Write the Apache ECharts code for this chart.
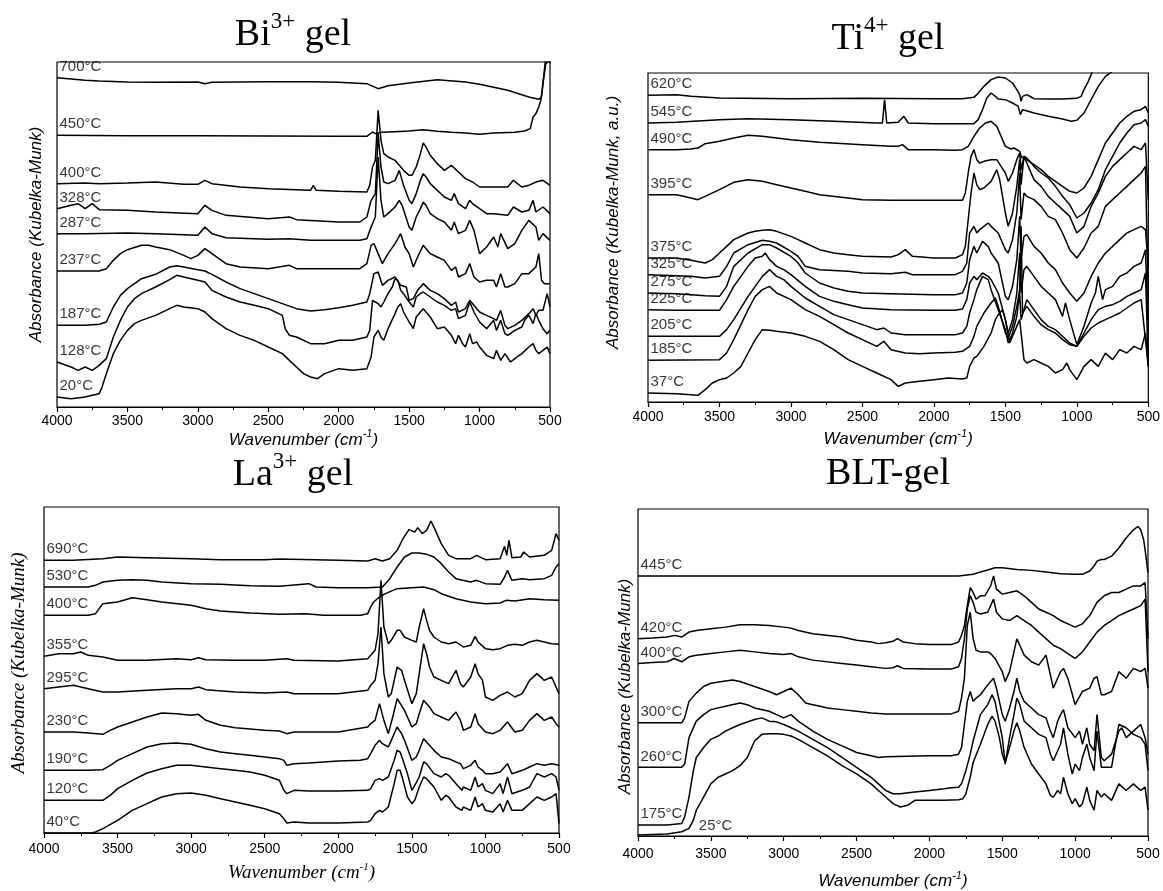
<!DOCTYPE html>
<html>
<head>
<meta charset="utf-8">
<script src="https://cdn.jsdelivr.net/npm/echarts@6/dist/echarts.min.js"></script>
<style>
  html, body { margin: 0; padding: 0; background: #fff; }
  #chart { width: 1163px; height: 891px; }
</style>
</head>
<body>
<div id="chart"></div>
<script>
// spectra: [wavenumber (cm-1), offset absorbance (a.u.)]

// ---- Bi3+ gel ----
const biLabels = ['700°C', '450°C', '400°C', '328°C', '287°C', '237°C', '187°C', '128°C', '20°C'];
const bi700 = [[4000,98.8],[3800,98],[3700,97.8],[3500,97.5],[3300,97.4],[3000,97.5],[2950,97],[2900,97.4],[2500,97.6],[2200,97.6],[2000,97.4],[1800,97],[1720,95.5],[1650,96.4],[1500,97.2],[1300,98.2],[1100,97.5],[1000,96.8],[800,95],[650,93],[580,92.3],[560,93],[545,99],[530,105],[515,107],[500,103]];
const bi450 = [[4000,81.5],[3500,81.4],[3000,81.4],[2500,81.3],[2000,81.2],[1800,81.2],[1760,82.5],[1740,82],[1700,82.4],[1600,82.6],[1500,82.8],[1400,83.2],[1300,82.7],[1200,82.4],[1100,82.2],[1000,81.8],[900,82.2],[750,82.4],[680,82.8],[640,83.5],[620,87],[600,88],[580,90],[565,92],[550,97],[530,103],[500,104]];
const bi400 = [[4000,67],[3800,67.2],[3700,67],[3500,67.2],[3300,67.5],[3100,66.8],[3000,66.8],[2950,68],[2900,67],[2700,66],[2500,65.5],[2300,65.2],[2200,65],[2180,66.5],[2160,65],[2000,64.7],[1800,64.5],[1780,66.5],[1760,72],[1740,74],[1720,89],[1700,80],[1680,76],[1650,75],[1600,74],[1570,72.5],[1540,71],[1500,69.5],[1480,69.5],[1450,72],[1420,76],[1400,79.2],[1380,78],[1350,75.5],[1300,73],[1250,71],[1200,72.5],[1190,73],[1150,70.5],[1100,68.5],[1050,67.5],[1000,66],[900,66],[800,66],[760,68],[700,66],[650,66.5],[600,67.5],[550,68],[500,66.5]];
const bi328 = [[4000,59.5],[3900,60.5],[3850,61],[3800,59.5],[3750,61],[3700,59.2],[3500,59],[3300,58.5],[3000,58],[2950,60.5],[2900,59],[2800,57.5],[2500,56.5],[2350,57],[2300,56.2],[2000,55.5],[1850,55.5],[1800,57],[1770,62],[1740,64],[1720,82],[1700,72],[1680,67.5],[1650,67],[1600,68],[1570,71],[1540,66.5],[1500,62],[1480,61],[1450,64],[1420,68],[1400,70],[1380,69],[1350,67],[1300,65],[1250,63],[1200,62],[1180,64],[1150,61],[1100,59.5],[1070,62],[1050,61],[1000,59.5],[950,58],[900,58],[800,57.5],[760,60],[700,58.5],[650,59],[620,62],[600,58.5],[550,60],[500,58]];
const bi287 = [[4000,52],[3800,52],[3500,52.2],[3300,52],[3000,51.5],[2950,54],[2900,52],[2800,50.8],[2500,50.3],[2350,50.5],[2200,50],[2000,50],[1850,50],[1800,50.5],[1770,54],[1740,57],[1720,75],[1700,62],[1680,57],[1650,58],[1600,60],[1570,62],[1550,60.5],[1500,54],[1480,53],[1450,57],[1420,59.5],[1400,61.5],[1380,60.5],[1350,58],[1300,56.5],[1250,55.5],[1200,53],[1180,55.5],[1150,52],[1100,53],[1070,56],[1040,53],[1000,46],[950,48],[900,51],[870,48],[850,52],[800,47.5],[750,49],[700,53],[650,56],[600,54],[580,50],[550,52],[500,50]];
const bi237 = [[4000,40.8],[3800,40.8],[3700,40.8],[3650,41.5],[3600,44],[3550,46],[3500,47.2],[3400,48.5],[3350,48.5],[3300,48],[3200,47.2],[3100,45.5],[3050,44.5],[3000,45.5],[2950,47.5],[2900,46],[2800,43],[2700,42],[2500,41.5],[2350,42.5],[2300,41.5],[2000,41.5],[1850,41.5],[1800,43],[1770,48.5],[1750,49],[1720,46],[1690,43],[1650,46],[1600,49],[1560,52],[1530,48],[1500,46],[1470,42],[1440,45],[1400,48.5],[1350,46],[1300,45],[1250,44],[1200,41],[1170,42],[1150,39],[1100,40],[1070,43],[1040,39],[1000,37.5],[950,38],[900,38],[880,36],[850,40],[820,36],[800,36],[750,37],[700,40],[650,40],[600,42],[580,46],[560,38],[540,37],[500,37]];
const bi187 = [[4000,24.5],[3800,24.5],[3700,24.8],[3650,25.5],[3600,30],[3550,33.5],[3500,35.5],[3400,38.5],[3300,39.8],[3200,42],[3150,42.4],[3100,42],[3000,41.2],[2950,40.8],[2900,39.8],[2800,37.5],[2700,35.5],[2600,34],[2500,32.5],[2400,31],[2300,29.5],[2200,28.8],[2100,29.2],[2000,29.8],[1900,30.5],[1800,31.5],[1780,34],[1750,40],[1720,40.5],[1690,36.5],[1650,38],[1600,39],[1560,36.5],[1520,36],[1500,32],[1470,32.5],[1440,35],[1400,37],[1350,35],[1300,34],[1250,32.5],[1200,30.5],[1170,31.5],[1150,28.5],[1100,29.5],[1070,32],[1040,30.5],[1000,28.5],[950,27.5],[900,26.5],[880,26],[850,29],[820,24.5],[800,23.5],[750,24.5],[700,26],[650,28],[620,29.5],[600,27.5],[580,29],[550,29],[520,34],[500,30]];
const bi128 = [[4000,13.5],[3900,12],[3850,11],[3800,12],[3750,11],[3700,12.5],[3650,14.5],[3600,21],[3550,26],[3500,30],[3450,32.5],[3400,34],[3300,36],[3200,38.2],[3150,39.5],[3100,39],[3000,38],[2950,37.5],[2900,35],[2800,33],[2700,31.5],[2600,30.5],[2500,29.5],[2400,27.5],[2380,23.5],[2350,21.5],[2300,21],[2200,19],[2100,19],[2000,20],[1900,20],[1800,21],[1780,23],[1760,32],[1740,31.5],[1720,31],[1700,30],[1680,31.5],[1650,34],[1620,36],[1600,38.5],[1580,38],[1560,35],[1540,34],[1500,31.5],[1470,30],[1450,33],[1420,34],[1400,34.5],[1350,33],[1300,31.5],[1250,30.5],[1200,29],[1170,29.5],[1150,26.5],[1100,27.5],[1070,31.5],[1040,28.5],[1000,25.5],[950,23.5],[900,26],[880,23],[850,26],[820,22],[800,21.5],[750,23],[700,24],[680,26],[650,27.5],[620,25],[600,28],[580,26],[550,23.5],[520,22],[500,23]];
const bi20 = [[4000,3],[3900,2.5],[3800,3],[3750,3.5],[3700,4],[3680,6],[3650,10],[3600,16],[3550,20],[3500,23],[3450,25],[3400,26],[3300,27.5],[3200,29.5],[3150,30.5],[3100,30],[3000,29.5],[2950,28.5],[2900,26.5],[2800,23.5],[2700,21.5],[2600,20],[2500,18],[2400,16],[2350,14],[2300,12],[2250,10],[2200,9],[2150,8.5],[2100,10],[2000,11.5],[1900,11],[1800,11.5],[1770,15],[1750,21],[1720,23],[1700,21],[1680,20],[1650,23.5],[1600,28],[1580,30],[1560,31],[1540,28.5],[1500,25.5],[1470,23.5],[1450,27],[1420,28.5],[1400,29.5],[1350,27],[1300,23.5],[1250,24],[1200,21.5],[1170,19],[1150,21.5],[1120,19],[1100,18],[1070,22],[1050,19],[1020,19.5],[1000,18],[950,15.5],[900,14.5],[880,17],[850,14],[820,16],[780,13.5],[750,14.5],[700,16],[650,18],[620,19],[600,17],[580,16],[550,17],[520,18],[500,16]];

// ---- Ti4+ gel ----
const tiLabels = ['620°C', '545°C', '490°C', '395°C', '375°C', '325°C', '275°C', '225°C', '205°C', '185°C', '37°C'];
const ti620 = [[4000,92.3],[3800,92.5],[3700,92],[3500,91.5],[3000,91.3],[2500,91.4],[2000,91.3],[1800,91.3],[1720,91.7],[1700,92.5],[1650,95],[1600,97],[1550,97.8],[1500,97.5],[1450,96],[1420,94],[1400,92.5],[1390,90.5],[1380,92],[1350,92.5],[1320,91.8],[1300,91.3],[1200,91.2],[1100,91.2],[1000,91.4],[970,92],[950,94],[920,96.5],[900,98.5],[880,101],[850,103],[500,103]];
const ti545 = [[4000,84],[3800,84.2],[3500,85],[3300,85.3],[3000,85],[2700,84.5],[2400,84],[2360,84],[2345,91],[2330,84],[2250,84.2],[2210,86],[2180,84],[2000,83.8],[1800,83.8],[1720,83.8],[1690,85],[1660,88],[1630,91.5],[1600,93],[1570,92],[1550,91.2],[1500,91],[1450,90],[1410,89],[1395,86.5],[1380,88],[1340,87.5],[1300,87],[1200,86],[1100,85.2],[1040,84.5],[1000,84.8],[950,87],[900,91],[850,95],[800,98],[750,99.5],[700,101],[500,101]];
const ti490 = [[4000,76],[3800,76],[3700,76.2],[3650,76.5],[3600,77.8],[3500,78.5],[3400,79.5],[3300,80.3],[3200,80],[3000,79],[2800,78.2],[2500,77.5],[2300,77],[2250,77],[2220,77.5],[2180,76],[2000,76],[1850,75.8],[1800,76],[1760,77],[1720,80],[1680,82.5],[1640,84],[1600,84.5],[1560,83],[1520,79],[1500,77],[1460,76.2],[1440,76.5],[1400,75.5],[1385,73.5],[1370,74],[1350,73],[1300,71.5],[1250,70],[1200,68],[1150,66.5],[1100,65],[1050,63.5],[1000,63],[950,64.5],[900,68],[850,73],[800,78],[750,81],[700,84],[650,86],[600,87.5],[550,88],[520,89],[500,87]];
const ti395 = [[4000,62.5],[3800,62.5],[3700,61.5],[3650,61],[3600,62],[3500,64],[3400,66.2],[3300,67],[3200,66.5],[3100,65.5],[3000,64.5],[2900,63.5],[2800,62.5],[2600,61.5],[2500,61],[2300,60.8],[2000,60.8],[1800,60.8],[1780,63],[1760,69],[1740,74],[1720,76],[1700,73],[1680,72],[1650,72.5],[1600,73],[1560,73],[1530,71],[1500,69],[1480,66.5],[1450,69],[1420,73],[1400,75],[1390,70],[1370,74],[1350,73.5],[1300,71],[1250,69],[1200,67.5],[1150,65],[1100,62],[1050,59.5],[1000,55.5],[950,57],[900,60],[850,64],[800,70],[750,74],[700,78],[650,81],[600,83.5],[550,84],[520,85],[500,83]];
const ti375 = [[4000,43.5],[3800,43.5],[3700,42.8],[3600,42],[3550,43],[3500,45],[3450,47],[3400,49],[3300,51],[3250,51.5],[3200,51.8],[3150,52],[3100,51.5],[3000,50],[2950,49],[2900,48],[2800,46],[2700,45],[2600,44.5],[2500,44],[2300,43.8],[2250,44.5],[2200,46],[2150,44],[2000,43.5],[1850,43.5],[1800,44.5],[1780,47],[1760,55],[1740,63],[1720,69],[1700,65.5],[1680,64],[1650,64.5],[1600,66.5],[1560,70],[1540,67],[1500,57],[1480,53],[1450,57],[1420,65],[1400,73],[1390,65.5],[1370,74],[1350,72],[1300,67],[1250,65],[1200,62],[1150,60],[1100,58],[1050,56],[1000,51],[950,53],[900,59],[850,63],[800,68],[750,71],[700,73],[650,75],[600,77],[550,76],[520,78],[500,61]];
const ti325 = [[4000,38.5],[3800,38.2],[3700,38],[3600,37.5],[3500,38],[3450,41],[3400,45],[3300,47.5],[3200,48.8],[3150,48.5],[3100,48],[3000,45.5],[2950,44],[2900,41],[2800,40],[2600,39.5],[2500,39],[2300,38.8],[2200,39.2],[2150,38.5],[2000,38.5],[1850,38.5],[1800,39.5],[1770,42],[1750,51],[1720,53],[1700,51],[1680,52],[1650,53],[1620,54],[1600,53],[1550,51],[1500,46],[1480,45],[1450,49],[1420,57],[1400,69],[1390,55],[1370,63],[1350,62],[1300,61],[1250,59],[1200,56],[1150,55],[1100,51],[1050,46],[1000,43.5],[950,46.5],[900,51],[850,53],[800,59],[750,61],[700,63],[650,65],[600,67],[550,69],[520,71],[500,31]];
const ti275 = [[4000,33],[3800,32.8],[3600,32.2],[3500,32],[3450,35],[3400,41],[3300,45],[3200,47.5],[3150,47.5],[3100,46.5],[3000,44],[2950,42],[2900,39],[2800,36],[2700,34.5],[2600,33.5],[2500,33],[2300,32.8],[2000,32.5],[1850,32.5],[1800,33],[1770,36],[1750,43],[1720,47],[1700,45],[1660,48.5],[1620,47],[1600,45],[1550,42],[1500,32],[1480,31],[1450,35],[1420,43],[1400,56],[1390,43],[1370,50],[1350,50.5],[1300,47],[1250,45],[1200,42],[1150,40],[1100,36],[1050,33],[1000,30.5],[950,33],[900,38],[850,42],[800,45],[750,47],[700,49],[650,51],[600,52],[550,53],[520,52],[500,41]];
const ti225 = [[4000,28],[3800,27.8],[3500,27.8],[3450,31],[3400,35],[3300,41],[3250,43.5],[3200,44],[3180,45],[3150,43],[3100,41],[3050,40],[3000,38.5],[2900,35],[2800,32],[2700,30.5],[2600,29.5],[2500,28.5],[2300,28],[2000,27.8],[1850,27.8],[1800,28.2],[1770,31],[1750,36],[1720,38],[1700,37],[1660,39],[1620,38],[1600,37],[1550,33],[1500,25],[1480,21],[1450,25],[1420,33],[1400,45],[1390,33],[1370,40],[1350,41],[1300,38],[1250,35],[1200,33],[1150,31],[1100,26],[1080,30],[1050,25],[1000,17.5],[950,23],[900,30],[870,33],[850,38],[820,31],[800,34],[750,35],[700,38],[650,39],[600,41],[550,42],[520,46],[500,21]];
const ti205 = [[4000,20],[3500,20],[3450,22],[3400,25],[3300,32],[3200,38],[3150,40],[3100,38],[3050,37],[3000,35],[2900,31.5],[2800,29],[2700,26.5],[2600,25],[2500,23.5],[2400,22],[2350,22.5],[2300,21],[2200,20.5],[2000,20.5],[1850,20.5],[1800,21],[1770,23],[1750,27],[1720,31],[1700,34],[1660,38],[1620,37],[1600,34],[1550,28],[1500,22],[1480,18],[1450,21],[1420,26],[1400,33],[1390,25],[1370,28],[1350,31],[1300,28],[1250,25],[1200,23],[1150,22],[1100,20],[1050,18],[1000,17],[950,21],[900,25],[850,28],[800,29],[750,29.5],[700,30.5],[650,32],[600,33],[550,34],[520,39],[500,11]];
const ti185 = [[4000,12.8],[3500,13],[3450,15],[3400,19],[3300,28],[3250,32],[3200,34],[3150,35],[3100,33],[3000,31],[2900,28],[2800,26],[2700,23.5],[2600,21],[2500,19],[2400,17],[2350,18.5],[2300,16],[2200,15],[2100,14.8],[2000,15],[1850,15.2],[1800,15.5],[1750,17],[1720,20],[1700,23],[1650,27],[1600,30],[1570,31.5],[1550,29],[1500,21],[1480,19.5],[1450,23],[1420,29],[1400,34],[1390,53],[1380,27],[1350,29],[1300,26],[1250,23.5],[1200,22],[1150,21],[1100,19],[1050,17.5],[1000,17],[950,20],[900,22.5],[850,24],[800,25],[750,26],[700,27],[650,28.5],[600,30],[550,31],[500,11]];
const ti37 = [[4000,3],[3800,2.8],[3700,2.5],[3650,2.3],[3600,4],[3550,6],[3500,7],[3450,7.5],[3400,9],[3350,11],[3300,15],[3250,19],[3200,22],[3150,21.8],[3100,21.5],[3000,21],[2900,20],[2800,18.5],[2700,16],[2600,13],[2500,11],[2400,9],[2300,7],[2250,5],[2200,6],[2100,6.5],[2000,7],[1900,7.5],[1800,7.2],[1770,7.5],[1750,11],[1720,13.5],[1700,14],[1650,17],[1600,21],[1570,25],[1550,26.5],[1520,28],[1500,25],[1470,18],[1450,20],[1420,23],[1400,25],[1390,21],[1370,13],[1350,12],[1300,13],[1250,12],[1200,11],[1150,9],[1100,10],[1070,12],[1050,10],[1000,7],[950,11],[900,13],[850,11],[800,15],[750,13],[700,16],[650,15],[600,17],[550,16],[520,21],[500,11]];

// ---- La3+ gel ----
const laLabels = ['690°C', '530°C', '400°C', '355°C', '295°C', '230°C', '190°C', '120°C', '40°C'];
const la690 = [[4000,82],[3800,82],[3600,82.5],[3500,83],[3300,82.8],[3000,82.5],[2800,82.2],[2500,82.2],[2400,82.4],[2000,82],[1800,81.8],[1750,82.5],[1700,81.8],[1650,82.5],[1600,85],[1560,88.5],[1520,91.2],[1480,90.5],[1460,91.8],[1430,90],[1400,91],[1370,93.8],[1340,91],[1300,87],[1250,83.5],[1200,82.5],[1100,82.5],[1060,83.5],[1000,82.2],[900,82.5],[870,86.2],[855,83.5],[840,88],[820,82.8],[760,83],[740,84.5],[700,83],[600,83.5],[550,85],[520,90],[500,88]];
const la530 = [[4000,74],[3700,74],[3650,74.5],[3600,75.5],[3500,76],[3400,76.2],[3300,76],[3200,75.5],[3000,75],[2800,74.8],[2600,74.4],[2400,74.2],[2200,75],[2150,74],[2000,73.8],[1800,73.8],[1700,74],[1650,76.5],[1600,80],[1550,83],[1500,84.2],[1450,84.2],[1400,83.8],[1350,83],[1300,81],[1250,78.5],[1200,76.5],[1100,75.5],[1060,76],[1000,75],[900,74.8],[870,77],[850,79],[820,76],[750,76.5],[700,76.2],[600,76.5],[550,77.5],[520,80],[500,81]];
const la400 = [[4000,65.5],[3800,65.5],[3700,65.5],[3650,66],[3600,69],[3500,69.5],[3400,70.8],[3300,70.2],[3200,69.5],[3000,68.5],[2900,67.5],[2800,66.8],[2600,66.2],[2400,65.8],[2220,66],[2100,65.5],[1850,65.5],[1800,66],[1780,68],[1760,69.5],[1720,71],[1680,72],[1600,73.5],[1500,73.8],[1420,74],[1350,73.2],[1300,72],[1200,70.5],[1100,69.5],[1000,69],[900,69.2],[860,70],[800,69.8],[700,70.5],[600,70.2],[500,70]];
const la355 = [[4000,53.2],[3900,54],[3800,54],[3750,54.5],[3700,53.5],[3600,53],[3500,52],[3300,52],[3100,52.5],[3000,52.2],[2950,52.8],[2900,52.2],[2700,52],[2500,52],[2350,52.5],[2300,52],[2000,51.8],[1800,52.5],[1780,53.5],[1750,55],[1730,60],[1710,76],[1690,62],[1660,57],[1640,58],[1600,61],[1580,61],[1550,59],[1500,58],[1470,57.5],[1450,62],[1420,67.5],[1400,64],[1380,61],[1350,59],[1300,57.5],[1250,57],[1200,57.5],[1150,56],[1100,56.5],[1070,59.2],[1050,57.5],[1000,55.5],[950,55.2],[900,55.5],[850,56.5],[800,56.8],[750,56.5],[700,57.5],[650,58],[600,57.5],[550,57],[500,56.8]];
const la295 = [[4000,43.5],[3800,44.5],[3750,44],[3700,43.5],[3600,42.5],[3500,42.5],[3300,43],[3100,43.5],[3000,43.5],[2950,44],[2900,43.2],[2700,42.5],[2500,42.2],[2350,42.5],[2300,42],[2000,42],[1800,43],[1780,44.5],[1750,46],[1730,51],[1710,62],[1690,48],[1660,41],[1640,42],[1600,50],[1570,49],[1550,46],[1500,39],[1470,42],[1450,48],[1420,57],[1400,54],[1380,50],[1350,47],[1300,46],[1250,45],[1200,49],[1170,45],[1150,44],[1100,47],[1070,51],[1050,48],[1020,46],[1000,41],[950,40],[900,41.5],[850,42.5],[800,41],[750,42],[700,46],[650,48],[600,46],[550,47],[520,44],[500,42]];
const la230 = [[4000,30.5],[3800,30.5],[3700,30.2],[3600,29.8],[3550,31],[3500,32],[3400,33.5],[3300,35],[3200,36.2],[3100,36],[3000,35.5],[2950,35.8],[2900,34],[2800,32.5],[2700,31.8],[2600,31.4],[2500,31],[2400,30.8],[2350,30],[2300,30.5],[2000,30.5],[1800,32],[1780,33],[1750,34],[1720,39],[1690,34],[1660,30],[1630,35],[1600,40.5],[1550,37],[1500,32],[1470,33],[1450,36],[1420,40],[1380,38],[1350,36],[1300,35],[1250,34],[1200,36.5],[1170,34],[1150,31],[1100,32],[1070,36],[1050,33],[1000,30.5],[950,30],[900,31],[850,33.5],[800,30.5],[750,31],[700,34],[650,36],[600,34],[550,35],[520,33],[500,32]];
const la190 = [[4000,19],[3800,19],[3700,19],[3600,19.2],[3550,20.5],[3500,22],[3400,24],[3300,26],[3200,27],[3100,27.2],[3000,26.8],[2900,25.5],[2800,24.5],[2700,24],[2600,23.5],[2500,23],[2400,22.5],[2370,22],[2350,20.5],[2300,21],[2200,21.2],[2000,21.8],[1850,22],[1800,22.5],[1780,24],[1750,26.5],[1720,28],[1700,27],[1660,26],[1640,28],[1600,32],[1570,30],[1550,28],[1500,22],[1470,23],[1450,25],[1420,28.5],[1400,27.5],[1350,25],[1300,23],[1250,22.5],[1200,21.5],[1170,21],[1150,19.5],[1100,20.5],[1070,22],[1050,20],[1020,19],[1000,18],[950,18],[900,18.5],[850,21],[820,18],[750,19],[700,20],[650,21],[600,20.5],[550,21],[500,20.5]];
const la120 = [[4000,10],[3800,10],[3700,10],[3600,10],[3550,11.5],[3500,13.5],[3400,16],[3300,18.2],[3200,19.5],[3100,20.5],[3000,20.5],[2900,20],[2800,19.5],[2700,19],[2600,18.5],[2500,17.5],[2400,16],[2370,13],[2350,12],[2300,13],[2200,12.8],[2000,12.8],[1800,13],[1780,13.5],[1750,16],[1720,16.5],[1700,16],[1660,17],[1620,22],[1600,25],[1580,24.5],[1560,22],[1530,18],[1500,13],[1480,14.5],[1450,17],[1420,21.5],[1400,21],[1350,18],[1300,17],[1270,18],[1250,17.5],[1200,15],[1160,13],[1150,14],[1100,13],[1070,17],[1050,14],[1020,15],[1000,13],[950,12],[900,15],[880,12],[850,17],[820,12],[750,13],[700,14],[650,18],[600,17],[550,18],[520,17],[500,13]];
const la40 = [[4000,0.2],[3700,0.2],[3680,0.2],[3650,0.5],[3600,1.5],[3500,4],[3400,7],[3300,9],[3200,11],[3100,12],[3000,12.2],[2900,11.5],[2800,10.5],[2700,9.5],[2600,8.5],[2500,7.5],[2400,6],[2370,4.5],[2350,3.2],[2300,3.5],[2200,3.2],[2000,3.2],[1800,3.5],[1780,4],[1750,6],[1720,7],[1700,6.5],[1660,8],[1620,15],[1600,19],[1580,19],[1560,16],[1530,11],[1500,9],[1480,10],[1450,14],[1420,17],[1400,16.5],[1350,14],[1300,10],[1270,11.5],[1250,11],[1200,8],[1160,7],[1150,8],[1100,7],[1070,11],[1050,8],[1020,9],[1000,7],[950,6.5],[900,9],[880,6.5],[850,10],[820,7],[750,7],[700,9],[650,11],[600,10],[550,11],[520,12],[500,3]];

// ---- BLT-gel ----
const bltLabels = ['445°C', '420°C', '400°C', '300°C', '260°C', '175°C', '25°C'];
const blt445 = [[4000,79],[3000,79],[2000,79],[1800,79],[1700,79.5],[1650,80.2],[1600,80.8],[1550,81.5],[1500,81.5],[1400,81],[1300,80.7],[1200,80.2],[1100,79.7],[1000,79.5],[950,79.5],[900,80.5],[870,82],[850,83.5],[820,84],[800,84],[750,85],[700,87.5],[650,90.5],[600,93],[570,94],[550,93],[530,90],[520,87],[500,80]];
const blt420 = [[4000,60],[3900,60.2],[3800,60.5],[3750,61],[3700,60.5],[3650,62],[3600,62.5],[3500,63],[3400,63.5],[3300,64.2],[3200,64.2],[3100,64],[3000,63.5],[2950,63.2],[2900,62.5],[2800,61.5],[2600,60.5],[2500,59.5],[2400,59],[2350,58.5],[2300,58.8],[2250,59.2],[2220,60],[2180,59],[2100,58.5],[2000,58.2],[1850,58.2],[1800,59],[1780,61],[1760,64],[1740,70],[1720,75.5],[1700,74],[1680,72],[1650,73],[1620,73],[1580,76],[1560,79],[1540,75],[1500,73.5],[1450,74],[1400,74.5],[1350,73],[1300,71],[1250,69],[1200,68],[1150,67],[1100,65.5],[1050,64.5],[1000,63.5],[950,64.5],[900,67],[850,71],[800,73],[750,74],[700,74],[650,75],[600,76],[550,76],[520,77],[500,60]];
const blt400 = [[4000,52.5],[3900,52.8],[3800,53],[3750,54],[3700,53],[3650,54.5],[3600,55],[3500,55.5],[3400,56],[3300,56.5],[3200,56],[3100,55.5],[3000,55.2],[2950,55.5],[2900,54.5],[2800,53.5],[2600,52.5],[2500,52],[2400,51.5],[2300,51],[2250,51.2],[2220,51.8],[2180,51],[2000,50.8],[1850,50.8],[1800,51.5],[1780,54],[1760,60],[1740,69],[1720,73],[1700,71],[1680,68],[1650,67.5],[1600,68],[1560,72],[1540,68],[1500,66],[1450,65.5],[1400,67],[1350,65.5],[1300,64],[1250,62],[1200,60],[1150,58],[1100,57],[1050,55.5],[1000,54],[950,56],[900,59],[850,62],[800,64],[750,65.5],[700,67],[650,68],[600,69],[550,70],[520,72],[500,50]];
const blt300 = [[4000,34.5],[3800,34.5],[3700,34.5],[3680,36],[3650,41],[3600,43.5],[3550,45.5],[3500,46.5],[3400,47.2],[3350,47.5],[3300,47],[3200,45.5],[3100,44],[3050,43],[3000,44],[2950,45],[2900,43],[2850,40.5],[2800,40],[2750,39.5],[2700,39],[2600,38.5],[2500,38],[2400,37.5],[2300,37.2],[2000,37.2],[1850,37.2],[1800,38],[1780,42],[1760,48],[1740,64],[1720,68],[1700,60],[1680,56.5],[1650,56],[1600,56],[1580,55.5],[1550,54],[1500,50],[1480,47],[1450,50],[1420,56],[1400,60],[1380,58],[1350,55],[1300,53],[1250,52],[1200,55],[1180,51],[1150,45],[1120,48],[1100,50],[1080,51],[1050,48],[1000,40],[950,44],[900,45],[870,48],[850,48.5],[820,43],[800,43],[750,44],[700,50],[650,48],[600,51],[550,50],[520,51],[500,45]];
const blt260 = [[4000,21],[3800,21],[3700,21],[3680,22],[3650,30],[3600,35],[3550,37],[3500,38.5],[3400,39.5],[3300,40.5],[3250,40],[3200,39],[3100,38],[3050,37],[3000,36],[2950,37],[2900,35],[2800,32],[2700,29.5],[2600,27.5],[2500,25.5],[2400,24.5],[2350,24],[2300,24.2],[2000,24.5],[1850,24.5],[1800,25],[1780,27],[1760,34],[1740,41],[1720,44],[1700,41],[1680,42],[1650,43],[1600,46],[1560,48],[1540,45],[1500,37],[1480,35],[1450,39],[1420,44],[1400,48],[1380,44],[1350,41],[1300,39],[1250,37],[1200,36],[1170,32],[1150,30],[1120,35],[1100,37],[1080,38.5],[1050,33],[1000,30],[970,32],[950,28],[920,33],[900,28],[870,26],[850,37],[820,24],[800,23],[750,25],[700,32],[680,33],[650,30],[600,32],[550,34],[520,30],[500,25]];
const blt175 = [[4000,3.5],[3800,3.5],[3700,4],[3680,6],[3650,12],[3620,20],[3600,24],[3550,27],[3500,29.5],[3450,30.5],[3400,32],[3350,33],[3300,34],[3200,35.5],[3150,36],[3100,35],[3050,34.8],[3000,34],[2950,33],[2900,32],[2800,29.5],[2700,27],[2600,24],[2500,21],[2400,18],[2350,16],[2300,14],[2250,13],[2200,13],[2100,13.5],[2000,14],[1900,14.5],[1850,14.8],[1800,15],[1780,16],[1750,20],[1720,25],[1700,29],[1650,37],[1600,40],[1570,43],[1550,41],[1500,30],[1480,22],[1450,30],[1420,37],[1400,42],[1380,40],[1350,35],[1300,33],[1250,31],[1200,30],[1170,25],[1150,23],[1100,28],[1080,33],[1050,25],[1020,19],[1000,22],[970,20],[950,24],[920,28],[900,24],[870,20],[850,32],[820,21],[800,21],[750,21],[700,34],[650,33],[600,31],[550,30],[520,28],[500,20]];
const blt25 = [[4000,0.5],[3800,0.8],[3700,1.5],[3650,2.5],[3620,5],[3600,8],[3550,12],[3500,16],[3450,18],[3400,19],[3350,20],[3300,21.5],[3250,24],[3200,29],[3150,31],[3100,31.2],[3050,31.2],[3000,31],[2950,30.5],[2900,29.5],[2800,27],[2700,24.5],[2600,21.5],[2500,19],[2400,16],[2350,14],[2300,12],[2250,10],[2200,9],[2150,9.5],[2100,11],[2000,11],[1900,11],[1800,11.2],[1770,11.5],[1750,13],[1720,18],[1700,22.5],[1650,28],[1600,34],[1570,36.5],[1550,35],[1520,30],[1500,25],[1480,22.5],[1450,27],[1420,32],[1400,34.5],[1380,32],[1350,27],[1300,22],[1250,19],[1200,16],[1170,12.5],[1150,12],[1120,14],[1100,13],[1080,18],[1050,13],[1020,10],[1000,11.5],[970,9],[950,10],[920,15],[900,11],[870,8],[850,14],[820,12],[800,13],[750,11],[700,16],[650,14],[600,16],[550,14],[520,15],[500,8]];

// panel layout
const SANS = 'Liberation Sans, Arial, sans-serif';
const SERIF = 'Liberation Serif, Times New Roman, serif';

const panels = [
  {
    title: '{m|Bi}{s|3+}{m| gel}', titleX: 293, titleY: 10,
    grid: { left: 57, top: 62, width: 493, height: 345 },
    yMin: 0, yMax: 103.5,
    curves: [bi700, bi450, bi400, bi328, bi287, bi237, bi187, bi128, bi20],
    labels: biLabels,
    yName: 'Absorbance (Kubelka-Munk)', yGap: 12, yPad: [0, 0, 0, 0],
    font: SANS, labelMargin: 7, nameGap: 21, nameSize: 17
  },
  {
    title: '{m|Ti}{s|4+}{m| gel}', titleX: 888, titleY: 14,
    grid: { left: 648, top: 73, width: 502, height: 329 },
    yMin: 0.3, yMax: 99,
    curves: [ti620, ti545, ti490, ti395, ti375, ti325, ti275, ti225, ti205, ti185, ti37],
    labels: tiLabels,
    yName: 'Absorbance (Kubelka-Munk, a.u.)', yGap: 26, yPad: [0, 0, 0, 30],
    font: SANS, labelMargin: 8, nameGap: 26, nameSize: 17
  },
  {
    title: '{m|La}{s|3+}{m| gel}', titleX: 293, titleY: 450,
    grid: { left: 44, top: 507, width: 515, height: 326 },
    yMin: 0.2, yMax: 98,
    curves: [la690, la530, la400, la355, la295, la230, la190, la120, la40],
    labels: laLabels,
    yName: 'Absorbance (Kubelka-Munk)', yGap: 16, yPad: [0, 0, 0, 14],
    font: SERIF, labelMargin: 9, nameGap: 29, nameSize: 19
  },
  {
    title: '{m|BLT-gel}', titleX: 888, titleY: 449,
    grid: { left: 638, top: 509, width: 510, height: 330 },
    yMin: 0.2, yMax: 99.3,
    curves: [blt445, blt420, blt400, blt300, blt260, blt175, blt25],
    labels: bltLabels,
    yName: 'Absorbance (Kubelka-Munk)', yGap: 4, yPad: [0, 28, 0, 0],
    font: SANS, labelMargin: 11, nameGap: 34, nameSize: 17,
    labelAt: { 6: 3600 }, labelShift: { 6: [0, 16] }
  }
];

function pointAt(curve, wn) {
  return curve.find(p => p[0] === wn) || curve[0];
}

const chart = echarts.init(document.getElementById('chart'));

const series = [];
panels.forEach((p, i) => {
  p.curves.forEach((c, j) => {
    series.push({
      type: 'line',
      name: p.labels[j],
      xAxisIndex: i,
      yAxisIndex: i,
      data: c,
      symbol: 'none',
      silent: true,
      clip: true,
      lineStyle: { color: '#000', width: 1.5 },
      z: 2
    });
  });
  series.push({
    type: 'scatter',
    xAxisIndex: i,
    yAxisIndex: i,
    symbolSize: 1,
    silent: true,
    itemStyle: { color: 'rgba(0,0,0,0)' },
    z: 5,
    data: p.curves.map((c, j) => {
      const wn = (p.labelAt && p.labelAt[j]) || c[0][0];
      const item = { value: pointAt(c, wn), name: p.labels[j] };
      if (p.labelShift && p.labelShift[j]) item.label = { offset: p.labelShift[j] };
      return item;
    }),
    label: {
      show: true,
      position: 'right',
      distance: 2,
      offset: [0, -11],
      formatter: '{b}',
      fontFamily: SANS,
      fontSize: 15,
      color: '#000'
    }
  });
});

const option = {
  animation: false,
  backgroundColor: '#fff',
  title: panels.map(p => ({
    text: p.title,
    left: p.titleX,
    top: p.titleY,
    textAlign: 'center',
    padding: 0,
    textStyle: {
      fontFamily: SERIF,
      fontWeight: 'normal',
      fontSize: 38,
      color: '#000',
      rich: {
        m: { fontFamily: SERIF, fontSize: 38, color: '#000', lineHeight: 44, verticalAlign: 'bottom' },
        s: { fontFamily: SERIF, fontSize: 23, color: '#000', lineHeight: 26, verticalAlign: 'top' }
      }
    }
  })),
  grid: panels.map(p => Object.assign({
    show: true,
    borderColor: '#000',
    borderWidth: 1.2,
    backgroundColor: 'transparent',
    containLabel: false
  }, p.grid)),
  xAxis: panels.map((p, i) => ({
    type: 'value',
    gridIndex: i,
    min: 500,
    max: 4000,
    interval: 500,
    inverse: true,
    name: '{n|Wavenumber (cm}{s|-1}{n|)}',
    nameLocation: 'middle',
    nameGap: p.nameGap,
    nameTextStyle: {
      rich: {
        n: { fontFamily: p.font, fontStyle: 'italic', fontSize: p.nameSize, color: '#000', lineHeight: 20, verticalAlign: 'bottom' },
        s: { fontFamily: p.font, fontStyle: 'italic', fontSize: 11, color: '#000', lineHeight: 12, verticalAlign: 'top' }
      }
    },
    axisLine: { show: true, lineStyle: { color: '#000', width: 1.2 } },
    axisTick: { show: true, length: 5, lineStyle: { color: '#000', width: 1.2 } },
    minorTick: { show: true, splitNumber: 2, length: 3, lineStyle: { color: '#000', width: 1 } },
    axisLabel: { color: '#000', fontFamily: SANS, fontSize: 14, margin: p.labelMargin, formatter: v => String(v) },
    splitLine: { show: false }
  })),
  yAxis: panels.map((p, i) => ({
    type: 'value',
    gridIndex: i,
    min: p.yMin,
    max: p.yMax,
    name: p.yName,
    nameLocation: 'middle',
    nameGap: p.yGap,
    nameTextStyle: {
      fontFamily: p.font,
      fontStyle: 'italic',
      fontSize: p.nameSize,
      color: '#000',
      padding: p.yPad
    },
    axisLine: { show: false },
    axisTick: { show: false },
    axisLabel: { show: false },
    splitLine: { show: false }
  })),
  series: series
};

chart.setOption(option);
</script>
</body>
</html>
